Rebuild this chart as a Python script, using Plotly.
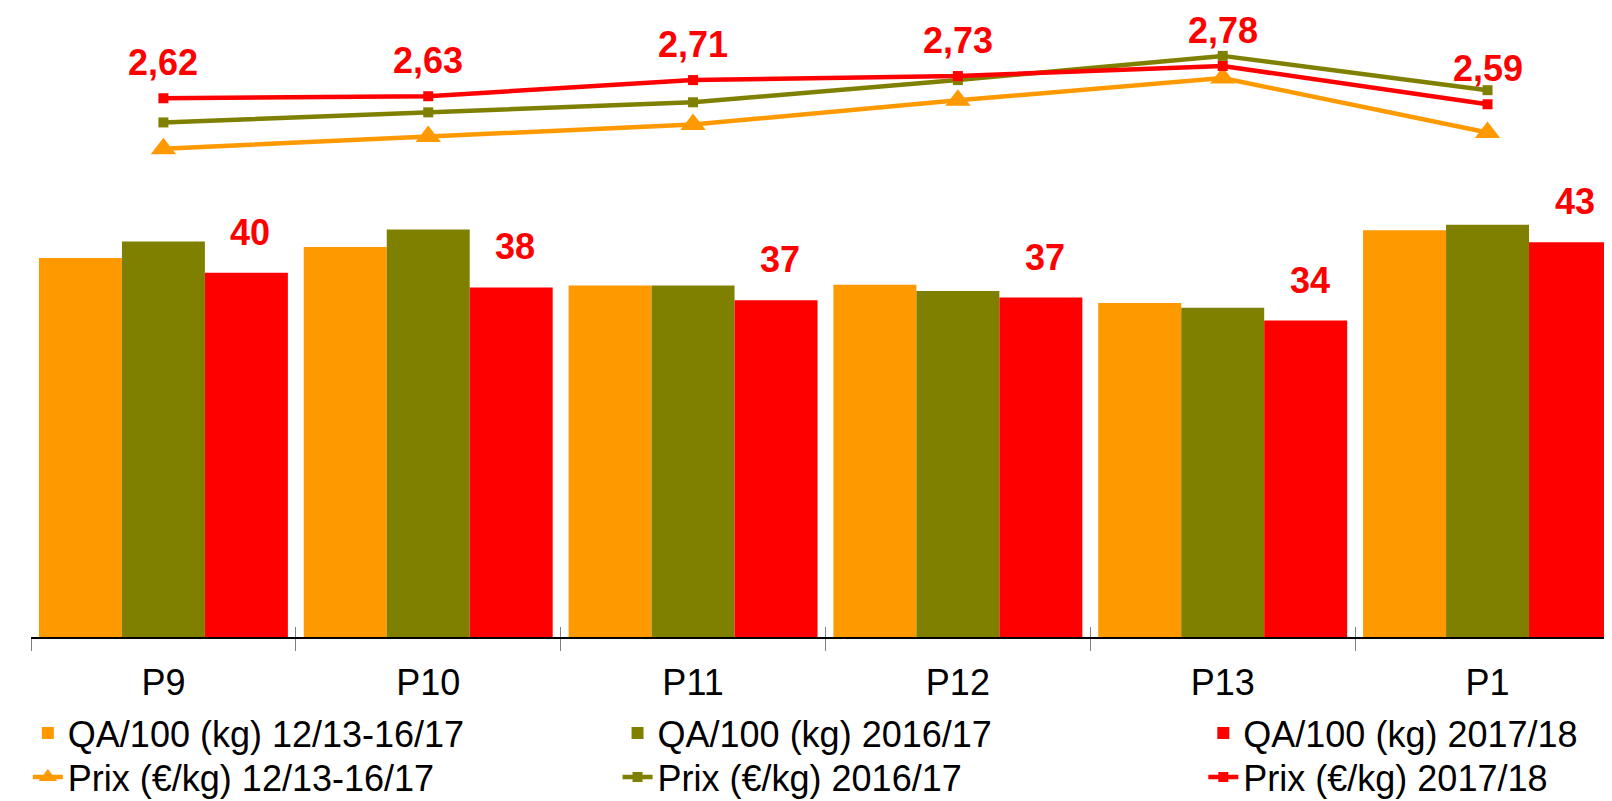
import plotly.graph_objects as go

categories = ["P9", "P10", "P11", "P12", "P13", "P1"]

qa_moy = [41.2, 42.4, 38.2, 38.3, 36.3, 44.2]      # QA/100 (kg) 12/13-16/17
qa_1617 = [43.0, 44.3, 38.2, 37.6, 35.8, 44.8]     # QA/100 (kg) 2016/17
qa_1718 = [39.6, 38.0, 36.6, 36.9, 34.4, 42.9]     # QA/100 (kg) 2017/18

prix_moy = [2.37, 2.43, 2.49, 2.61, 2.72, 2.45]    # Prix (€/kg) 12/13-16/17
prix_1617 = [2.50, 2.55, 2.60, 2.71, 2.83, 2.66]   # Prix (€/kg) 2016/17
prix_1718 = [2.62, 2.63, 2.71, 2.73, 2.78, 2.59]   # Prix (€/kg) 2017/18

ORANGE = "#FF9900"
OLIVE = "#808000"
RED = "#FF0000"
FONT = "Liberation Sans, Arial, sans-serif"

fig = go.Figure()

fig.add_trace(go.Bar(x=categories, y=qa_moy, name="QA/100 (kg) 12/13-16/17",
                     marker=dict(color=ORANGE, line=dict(width=0)), legend="legend"))
fig.add_trace(go.Bar(x=categories, y=qa_1617, name="QA/100 (kg) 2016/17",
                     marker=dict(color=OLIVE, line=dict(width=0)), legend="legend2"))
fig.add_trace(go.Bar(x=categories, y=qa_1718, name="QA/100 (kg) 2017/18",
                     marker=dict(color=RED, line=dict(width=0)), legend="legend3"))

fig.add_trace(go.Scatter(x=categories, y=prix_moy, name="Prix (€/kg) 12/13-16/17",
                         mode="lines+markers", xaxis="x2", yaxis="y2",
                         line=dict(color=ORANGE, width=4.5),
                         marker=dict(symbol="triangle-up", size=22, color=ORANGE),
                         legend="legend4"))
fig.add_trace(go.Scatter(x=categories, y=prix_1617, name="Prix (€/kg) 2016/17",
                         mode="lines+markers", xaxis="x2", yaxis="y2",
                         line=dict(color=OLIVE, width=4.5),
                         marker=dict(symbol="square", size=10, color=OLIVE),
                         legend="legend5"))
fig.add_trace(go.Scatter(x=categories, y=prix_1718, name="Prix (€/kg) 2017/18",
                         mode="lines+markers", xaxis="x2", yaxis="y2",
                         line=dict(color=RED, width=4.5),
                         marker=dict(symbol="square", size=10, color=RED),
                         legend="legend6"))

annotations = []
for c, v in zip(categories, qa_1718):
    annotations.append(dict(x=c, y=v, xref="x", yref="y", text=f"{v:.0f}",
                            showarrow=False, xshift=87, yshift=18, yanchor="bottom",
                            font=dict(family=FONT, size=36, color=RED, weight="bold")))
for c, v in zip(categories, prix_1718):
    annotations.append(dict(x=c, y=v, xref="x2", yref="y2",
                            text=f"{v:.2f}".replace(".", ","),
                            showarrow=False, yshift=13, yanchor="bottom",
                            font=dict(family=FONT, size=36, color=RED, weight="bold")))

xrange = [-0.5, 5.47]
legend_common = dict(orientation="v", yanchor="top", xanchor="left",
                     font=dict(family=FONT, size=36, color="black"),
                     bgcolor="rgba(0,0,0,0)", tracegroupgap=0)
ROW1, ROW2 = -0.1049, -0.1749
COL1, COL2, COL3 = -0.002, 0.371, 0.7415

# the page body adds an 8px offset; the figure is sized so it ends at the window edge
fig.update_layout(
    width=1604, height=793,
    margin=dict(l=23, r=0, t=0, b=164, autoexpand=False),
    paper_bgcolor="white", plot_bgcolor="white",
    barmode="group", bargap=0.06, bargroupgap=0,
    font=dict(family=FONT, color="black"),
    xaxis=dict(type="category", categoryorder="array", categoryarray=categories,
               range=xrange, tickson="boundaries", ticks="outside", ticklen=12,
               tickcolor="#808080", tickwidth=1, showline=True, linecolor="black",
               linewidth=1.5, showgrid=False, zeroline=False, ticklabelstandoff=13,
               tickfont=dict(family=FONT, size=36, color="black")),
    xaxis2=dict(type="category", categoryorder="array", categoryarray=categories,
                range=xrange, overlaying="x", anchor="y2", side="bottom",
                tickson="boundaries", ticks="inside", ticklen=10,
                tickcolor="#808080", tickwidth=1, showline=False,
                showticklabels=False, showgrid=False, zeroline=False),
    yaxis=dict(range=[0, 68.37], visible=False),
    yaxis2=dict(range=[-0.0516, 3.0675], overlaying="y", visible=False),
    legend=dict(x=COL1, y=ROW1, **legend_common),
    legend2=dict(x=COL2, y=ROW1, **legend_common),
    legend3=dict(x=COL3, y=ROW1, **legend_common),
    legend4=dict(x=COL1, y=ROW2, **legend_common),
    legend5=dict(x=COL2, y=ROW2, **legend_common),
    legend6=dict(x=COL3, y=ROW2, **legend_common),
    annotations=annotations,
    showlegend=True,
)

fig.write_html("out.html")
